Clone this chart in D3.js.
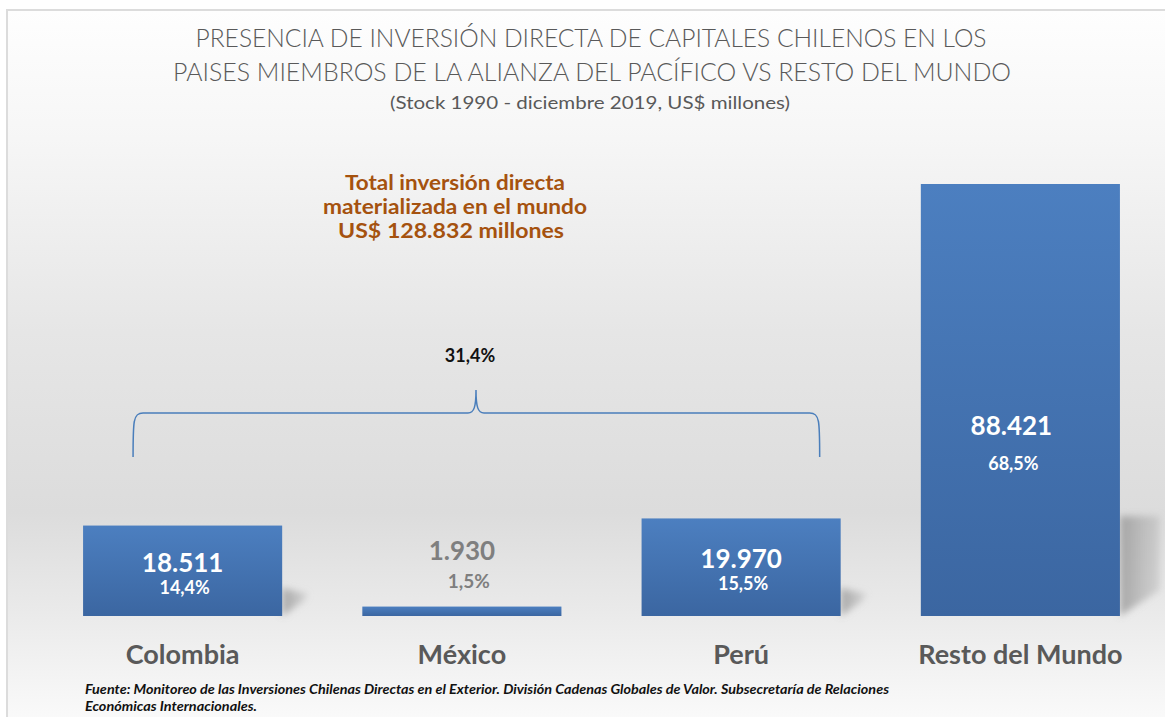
<!DOCTYPE html>
<html>
<head>
<meta charset="utf-8">
<script src="https://cdn.jsdelivr.net/npm/d3@7"></script>
<style>
  body { margin: 0; background: #fff; }
  svg { display: block; }
</style>
</head>
<body>
<div id="chart"></div>
<script>
// datos
var categories = ['Colombia', 'México', 'Perú', 'Resto del Mundo'];
var values     = [18511, 1930, 19970, 88421];
var shares     = ['14,4%', '1,5%', '15,5%', '68,5%'];
var total_label   = ['Total inversión directa', 'materializada en el mundo', 'US$ 128.832 millones'];
var alianza_share = '31,4%';
var alianza_idx   = [0, 2];   // la llave va de Colombia a Perú

var data = categories.map(function(c, i){
    return {name: c, value: values[i], share: shares[i]};
});

var chart_width  = 1165;
var chart_height = 717;
var base_y       = 616;
var top_y        = 184;

var fmt = d3.formatLocale({decimal: ',', thousands: '.', grouping: [3], currency: ['$', '']}).format(',d');

var svg = d3.select('#chart')
    .append('svg')
    .attr('width', chart_width)
    .attr('height', chart_height);

var defs = svg.append('defs');

// fondo degradado
var bg = defs.append('linearGradient')
    .attr('id', 'bg')
    .attr('x1', 0).attr('y1', 0).attr('x2', 0).attr('y2', 1);
[[0, '#fefefe'], [0.18, '#f6f6f6'], [0.45, '#e6e6e6'], [0.7, '#dcdcdc'], [0.86, '#ececec'], [1, '#fbfbfb']]
    .forEach(function(s){
        bg.append('stop').attr('offset', s[0]).attr('stop-color', s[1]);
    });

var barGrad = defs.append('linearGradient')
    .attr('id', 'bar')
    .attr('x1', 0).attr('y1', 0).attr('x2', 0).attr('y2', 1);
barGrad.append('stop').attr('offset', 0).attr('stop-color', '#4c7fc0');
barGrad.append('stop').attr('offset', 1).attr('stop-color', '#3b66a1');

var shGrad = defs.append('linearGradient')
    .attr('id', 'sh')
    .attr('x1', 0).attr('y1', 0).attr('x2', 1).attr('y2', 0);
shGrad.append('stop').attr('offset', 0).attr('stop-color', '#8a8a8a').attr('stop-opacity', 0.7);
shGrad.append('stop').attr('offset', 1).attr('stop-color', '#a0a0a0').attr('stop-opacity', 0.3);

defs.append('filter')
    .attr('id', 'blur')
    .attr('x', '-50%').attr('y', '-50%').attr('width', '200%').attr('height', '200%')
    .append('feGaussianBlur')
    .attr('stdDeviation', 3.5);

svg.append('rect')
    .attr('x', 7).attr('y', 10)
    .attr('width', chart_width).attr('height', chart_height)
    .attr('fill', 'url(#bg)')
    .attr('stroke', '#dcdcdc')
    .attr('stroke-width', 2);

// escalas
var x_scale = d3.scaleBand()
    .domain(categories)
    .range([43, 1160])
    .paddingInner(0.287)
    .paddingOuter(0.1435);

var y_scale = d3.scaleLinear()
    .domain([0, d3.max(values)])
    .range([base_y, top_y]);

var bw = x_scale.bandwidth();

// titulo
var title = svg.append('g')
    .attr('font-family', 'Lato, "Open Sans", sans-serif')
    .attr('fill', '#595959')
    .attr('text-anchor', 'middle');

title.append('text')
    .attr('x', 591).attr('y', 47)
    .attr('font-size', 25).attr('font-weight', 300)
    .attr('textLength', 791).attr('lengthAdjust', 'spacingAndGlyphs')
    .text('PRESENCIA DE INVERSIÓN DIRECTA DE CAPITALES CHILENOS EN LOS');
title.append('text')
    .attr('x', 592).attr('y', 81)
    .attr('font-size', 25).attr('font-weight', 300)
    .attr('textLength', 838).attr('lengthAdjust', 'spacingAndGlyphs')
    .text('PAISES MIEMBROS DE LA ALIANZA DEL PACÍFICO VS RESTO DEL MUNDO');
title.append('text')
    .attr('x', 590).attr('y', 109)
    .attr('font-size', 18).attr('font-weight', 400)
    .attr('textLength', 400).attr('lengthAdjust', 'spacingAndGlyphs')
    .text('(Stock 1990 - diciembre 2019, US$ millones)');

// sombras
svg.selectAll('.shadow')
    .data(data.filter(function(d){ return base_y - y_scale(d.value) > 40; }))
    .enter()
    .append('path')
    .attr('class', 'shadow')
    .attr('filter', 'url(#blur)')
    .attr('fill', 'url(#sh)')
    .attr('d', function(d){
        var x1 = x_scale(d.name) + bw;
        var h  = base_y - y_scale(d.value);
        if (h > 300) {
            return 'M' + x1 + ',' + (base_y - 100) +
                   'L' + (x1 + 40) + ',' + (base_y - 100) +
                   'L' + (x1 + 40) + ',' + (base_y - 26) +
                   'L' + x1 + ',' + base_y + 'Z';
        }
        return 'M' + x1 + ',' + (base_y - 28) +
               'L' + (x1 + 26) + ',' + (base_y - 22) +
               'L' + (x1 + 20) + ',' + (base_y - 14) +
               'L' + x1 + ',' + base_y + 'Z';
    });

// barras
svg.selectAll('.bar')
    .data(data)
    .enter()
    .append('rect')
    .attr('class', 'bar')
    .attr('x', function(d){ return x_scale(d.name); })
    .attr('y', function(d){ return y_scale(d.value); })
    .attr('width', bw)
    .attr('height', function(d){ return base_y - y_scale(d.value); })
    .attr('fill', 'url(#bar)');

// etiquetas de valor
function barH(d){ return base_y - y_scale(d.value); }
function isSmall(d){ return barH(d) < 40; }
function isBig(d){ return barH(d) > 300; }
function labelY(d){
    if (isSmall(d)) return y_scale(d.value) - 47;
    if (isBig(d)) return y_scale(d.value * 0.42);
    return y_scale(d.value / 2) + 1;
}
function labelX(d){
    return x_scale(d.name) + bw / 2 + (isBig(d) ? -9 : 0);
}
function shareGap(d){
    if (isSmall(d)) return 28;
    if (isBig(d)) return 35;
    return 22;
}

var labels = svg.selectAll('.lbl')
    .data(data)
    .enter()
    .append('g')
    .attr('class', 'lbl')
    .attr('font-family', 'Lato, "Open Sans", sans-serif')
    .attr('font-weight', 'bold')
    .attr('text-anchor', 'middle')
    .attr('fill', function(d){ return isSmall(d) ? '#7f7f7f' : '#ffffff'; });

labels.append('text')
    .attr('x', labelX)
    .attr('y', labelY)
    .attr('font-size', 26)
    .text(function(d){ return fmt(d.value); });

labels.append('text')
    .attr('x', function(d){ return labelX(d) + (isSmall(d) ? 7 : 2); })
    .attr('y', function(d){ return labelY(d) + shareGap(d); })
    .attr('font-size', function(d){ return isSmall(d) ? 19 : 18; })
    .text(function(d){ return d.share; });

// categorias
svg.selectAll('.cat')
    .data(data)
    .enter()
    .append('text')
    .attr('class', 'cat')
    .attr('x', function(d){ return x_scale(d.name) + bw / 2; })
    .attr('y', 664)
    .attr('font-family', 'Lato, "Open Sans", sans-serif')
    .attr('font-weight', 'bold')
    .attr('font-size', 27)
    .attr('fill', '#595959')
    .attr('text-anchor', 'middle')
    .text(function(d){ return d.name; });

// anotacion total
var total_widths = [220, 264, 226];
svg.append('g')
    .attr('font-family', 'Lato, "Open Sans", sans-serif')
    .attr('font-weight', 'bold')
    .attr('font-size', 20)
    .attr('fill', '#a5520f')
    .attr('text-anchor', 'middle')
    .selectAll('text')
    .data(total_label)
    .enter()
    .append('text')
    .attr('x', function(d, i){ return i == 2 ? 451 : 455; })
    .attr('y', function(d, i){ return 190 + i * 24; })
    .attr('textLength', function(d, i){ return total_widths[i]; })
    .attr('lengthAdjust', 'spacingAndGlyphs')
    .text(function(d){ return d; });

// llave
var bl = x_scale(categories[alianza_idx[0]]) + 50;
var br = x_scale(categories[alianza_idx[1]]) + bw - 21;
var bm = 476, by = 413, bb = 457, bt = 390;

svg.append('path')
    .attr('fill', 'none')
    .attr('stroke', '#4a7ebb')
    .attr('stroke-width', 1.5)
    .attr('d',
        'M' + bl + ',' + bb +
        'C' + bl + ',' + (by + 8) + ' ' + bl + ',' + by + ' ' + (bl + 10) + ',' + by +
        'L' + (bm - 8) + ',' + by +
        'C' + (bm - 2) + ',' + by + ' ' + bm + ',' + (by - 6) + ' ' + bm + ',' + bt +
        'C' + bm + ',' + (by - 6) + ' ' + (bm + 2) + ',' + by + ' ' + (bm + 8) + ',' + by +
        'L' + (br - 10) + ',' + by +
        'C' + br + ',' + by + ' ' + br + ',' + (by + 8) + ' ' + br + ',' + bb);

svg.append('text')
    .attr('x', 470).attr('y', 362)
    .attr('font-family', 'Lato, "Open Sans", sans-serif')
    .attr('font-weight', 'bold')
    .attr('font-size', 18)
    .attr('fill', '#111')
    .attr('text-anchor', 'middle')
    .text(alianza_share);

// fuente
var src = svg.append('g')
    .attr('font-family', 'Lato, "Open Sans", sans-serif')
    .attr('font-weight', 'bold')
    .attr('font-style', 'italic')
    .attr('font-size', 13)
    .attr('fill', '#111');
src.append('text')
    .attr('x', 85).attr('y', 694)
    .attr('textLength', 804).attr('lengthAdjust', 'spacingAndGlyphs')
    .text('Fuente: Monitoreo de las Inversiones Chilenas Directas en el Exterior. División Cadenas Globales de Valor. Subsecretaría de Relaciones');
src.append('text')
    .attr('x', 85).attr('y', 711)
    .attr('textLength', 172).attr('lengthAdjust', 'spacingAndGlyphs')
    .text('Económicas Internacionales.');
</script>
</body>
</html>
